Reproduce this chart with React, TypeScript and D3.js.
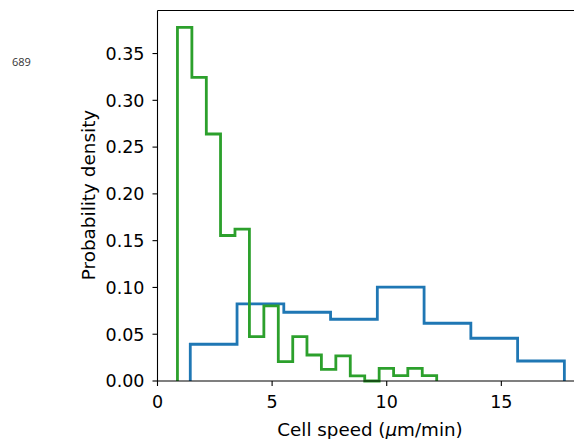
import React, { useEffect, useRef } from 'react'
import * as d3 from 'd3'

// blue histogram (density), 8 equal bins
const blueEdges = [1.43, 3.47, 5.51, 7.55, 9.59, 11.63, 13.67, 15.71, 17.75]
const blueDensity = [0.0393, 0.0824, 0.0735, 0.066, 0.1003, 0.0617, 0.0457, 0.0214]

// green histogram (density), 18 equal bins
const greenEdges = [0.87, 1.5, 2.13, 2.75, 3.38, 4.01, 4.64, 5.27, 5.9, 6.52, 7.15, 7.78, 8.41, 9.04, 9.67, 10.3, 10.92, 11.55, 12.18]
const greenDensity = [0.378, 0.3246, 0.264, 0.1555, 0.1623, 0.0474, 0.0803, 0.0207, 0.0474, 0.0278, 0.0125, 0.0268, 0.0054, 0, 0.0136, 0.0057, 0.0136, 0.0057]

const xTicks = [0, 5, 10, 15]
const yTicks = [0, 0.05, 0.1, 0.15, 0.2, 0.25, 0.3, 0.35]

const W = 574
const H = 439

function stepPoints(edges: number[], vals: number[]): [number, number][] {
  const pts: [number, number][] = [[edges[0], 0]]
  vals.forEach((v, i) => {
    pts.push([edges[i], v])
    pts.push([edges[i + 1], v])
  })
  pts.push([edges[edges.length - 1], 0])
  return pts
}

const App = () => {
  const ref = useRef<SVGSVGElement>(null)

  useEffect(() => {
    const svg = d3.select(ref.current)
    svg.selectAll('*').remove()

    const x = d3.scaleLinear().domain([0, 18.17]).range([157.5, 574])
    const y = d3.scaleLinear().domain([0, 0.396]).range([381, 10.5])
    const font = 'DejaVu Sans, sans-serif'

    const line = d3.line<[number, number]>()
      .x(d => x(d[0]))
      .y(d => y(d[1]))

    svg.append('path')
      .attr('d', line(stepPoints(blueEdges, blueDensity)))
      .attr('fill', 'none')
      .attr('stroke', '#1f77b4')
      .attr('stroke-width', 2.8)
      .attr('stroke-linejoin', 'miter')

    svg.append('path')
      .attr('d', line(stepPoints(greenEdges, greenDensity)))
      .attr('fill', 'none')
      .attr('stroke', '#2ca02c')
      .attr('stroke-width', 2.8)
      .attr('stroke-linejoin', 'miter')

    // spines
    svg.append('line')
      .attr('x1', x(0)).attr('x2', x(0))
      .attr('y1', y.range()[0]).attr('y2', y.range()[1])
      .attr('stroke', 'black').attr('stroke-width', 1.1)
    svg.append('line')
      .attr('x1', x(0)).attr('x2', W)
      .attr('y1', y.range()[1]).attr('y2', y.range()[1])
      .attr('stroke', 'black').attr('stroke-width', 1.1)
    svg.append('line')
      .attr('x1', x(0)).attr('x2', W)
      .attr('y1', y(0)).attr('y2', y(0))
      .attr('stroke', 'black').attr('stroke-width', 1.1)

    const xt = svg.append('g')
    xTicks.forEach(t => {
      xt.append('line')
        .attr('x1', x(t)).attr('x2', x(t))
        .attr('y1', y(0)).attr('y2', y(0) + 5)
        .attr('stroke', 'black').attr('stroke-width', 1.1)
      xt.append('text')
        .attr('x', x(t)).attr('y', 408)
        .attr('text-anchor', 'middle')
        .attr('font-family', font).attr('font-size', 17.5)
        .text(t)
    })

    const yt = svg.append('g')
    yTicks.forEach(t => {
      yt.append('line')
        .attr('x1', x(0) - 5).attr('x2', x(0))
        .attr('y1', y(t)).attr('y2', y(t))
        .attr('stroke', 'black').attr('stroke-width', 1.1)
      yt.append('text')
        .attr('x', 144.5).attr('y', y(t))
        .attr('dy', '0.36em')
        .attr('text-anchor', 'end')
        .attr('font-family', font).attr('font-size', 17.5)
        .text(d3.format('.2f')(t))
    })

    const xl = svg.append('text')
      .attr('x', 370).attr('y', 436)
      .attr('text-anchor', 'middle')
      .attr('font-family', font).attr('font-size', 18.3)
    xl.append('tspan').text('Cell speed (')
    xl.append('tspan').attr('font-style', 'italic').text('μ')
    xl.append('tspan').text('m/min)')

    svg.append('text')
      .attr('transform', 'translate(94.5,195) rotate(-90)')
      .attr('text-anchor', 'middle')
      .attr('font-family', font).attr('font-size', 18.4)
      .text('Probability density')

    svg.append('text')
      .attr('x', 12).attr('y', 66)
      .attr('font-family', 'Open Sans, sans-serif').attr('font-size', 11)
      .attr('fill', '#333')
      .text('689')
  }, [])

  return (
    <svg ref={ref} width={W} height={H} style={{ position: 'absolute', left: 0, top: 0 }} />
  )
}

export default App
